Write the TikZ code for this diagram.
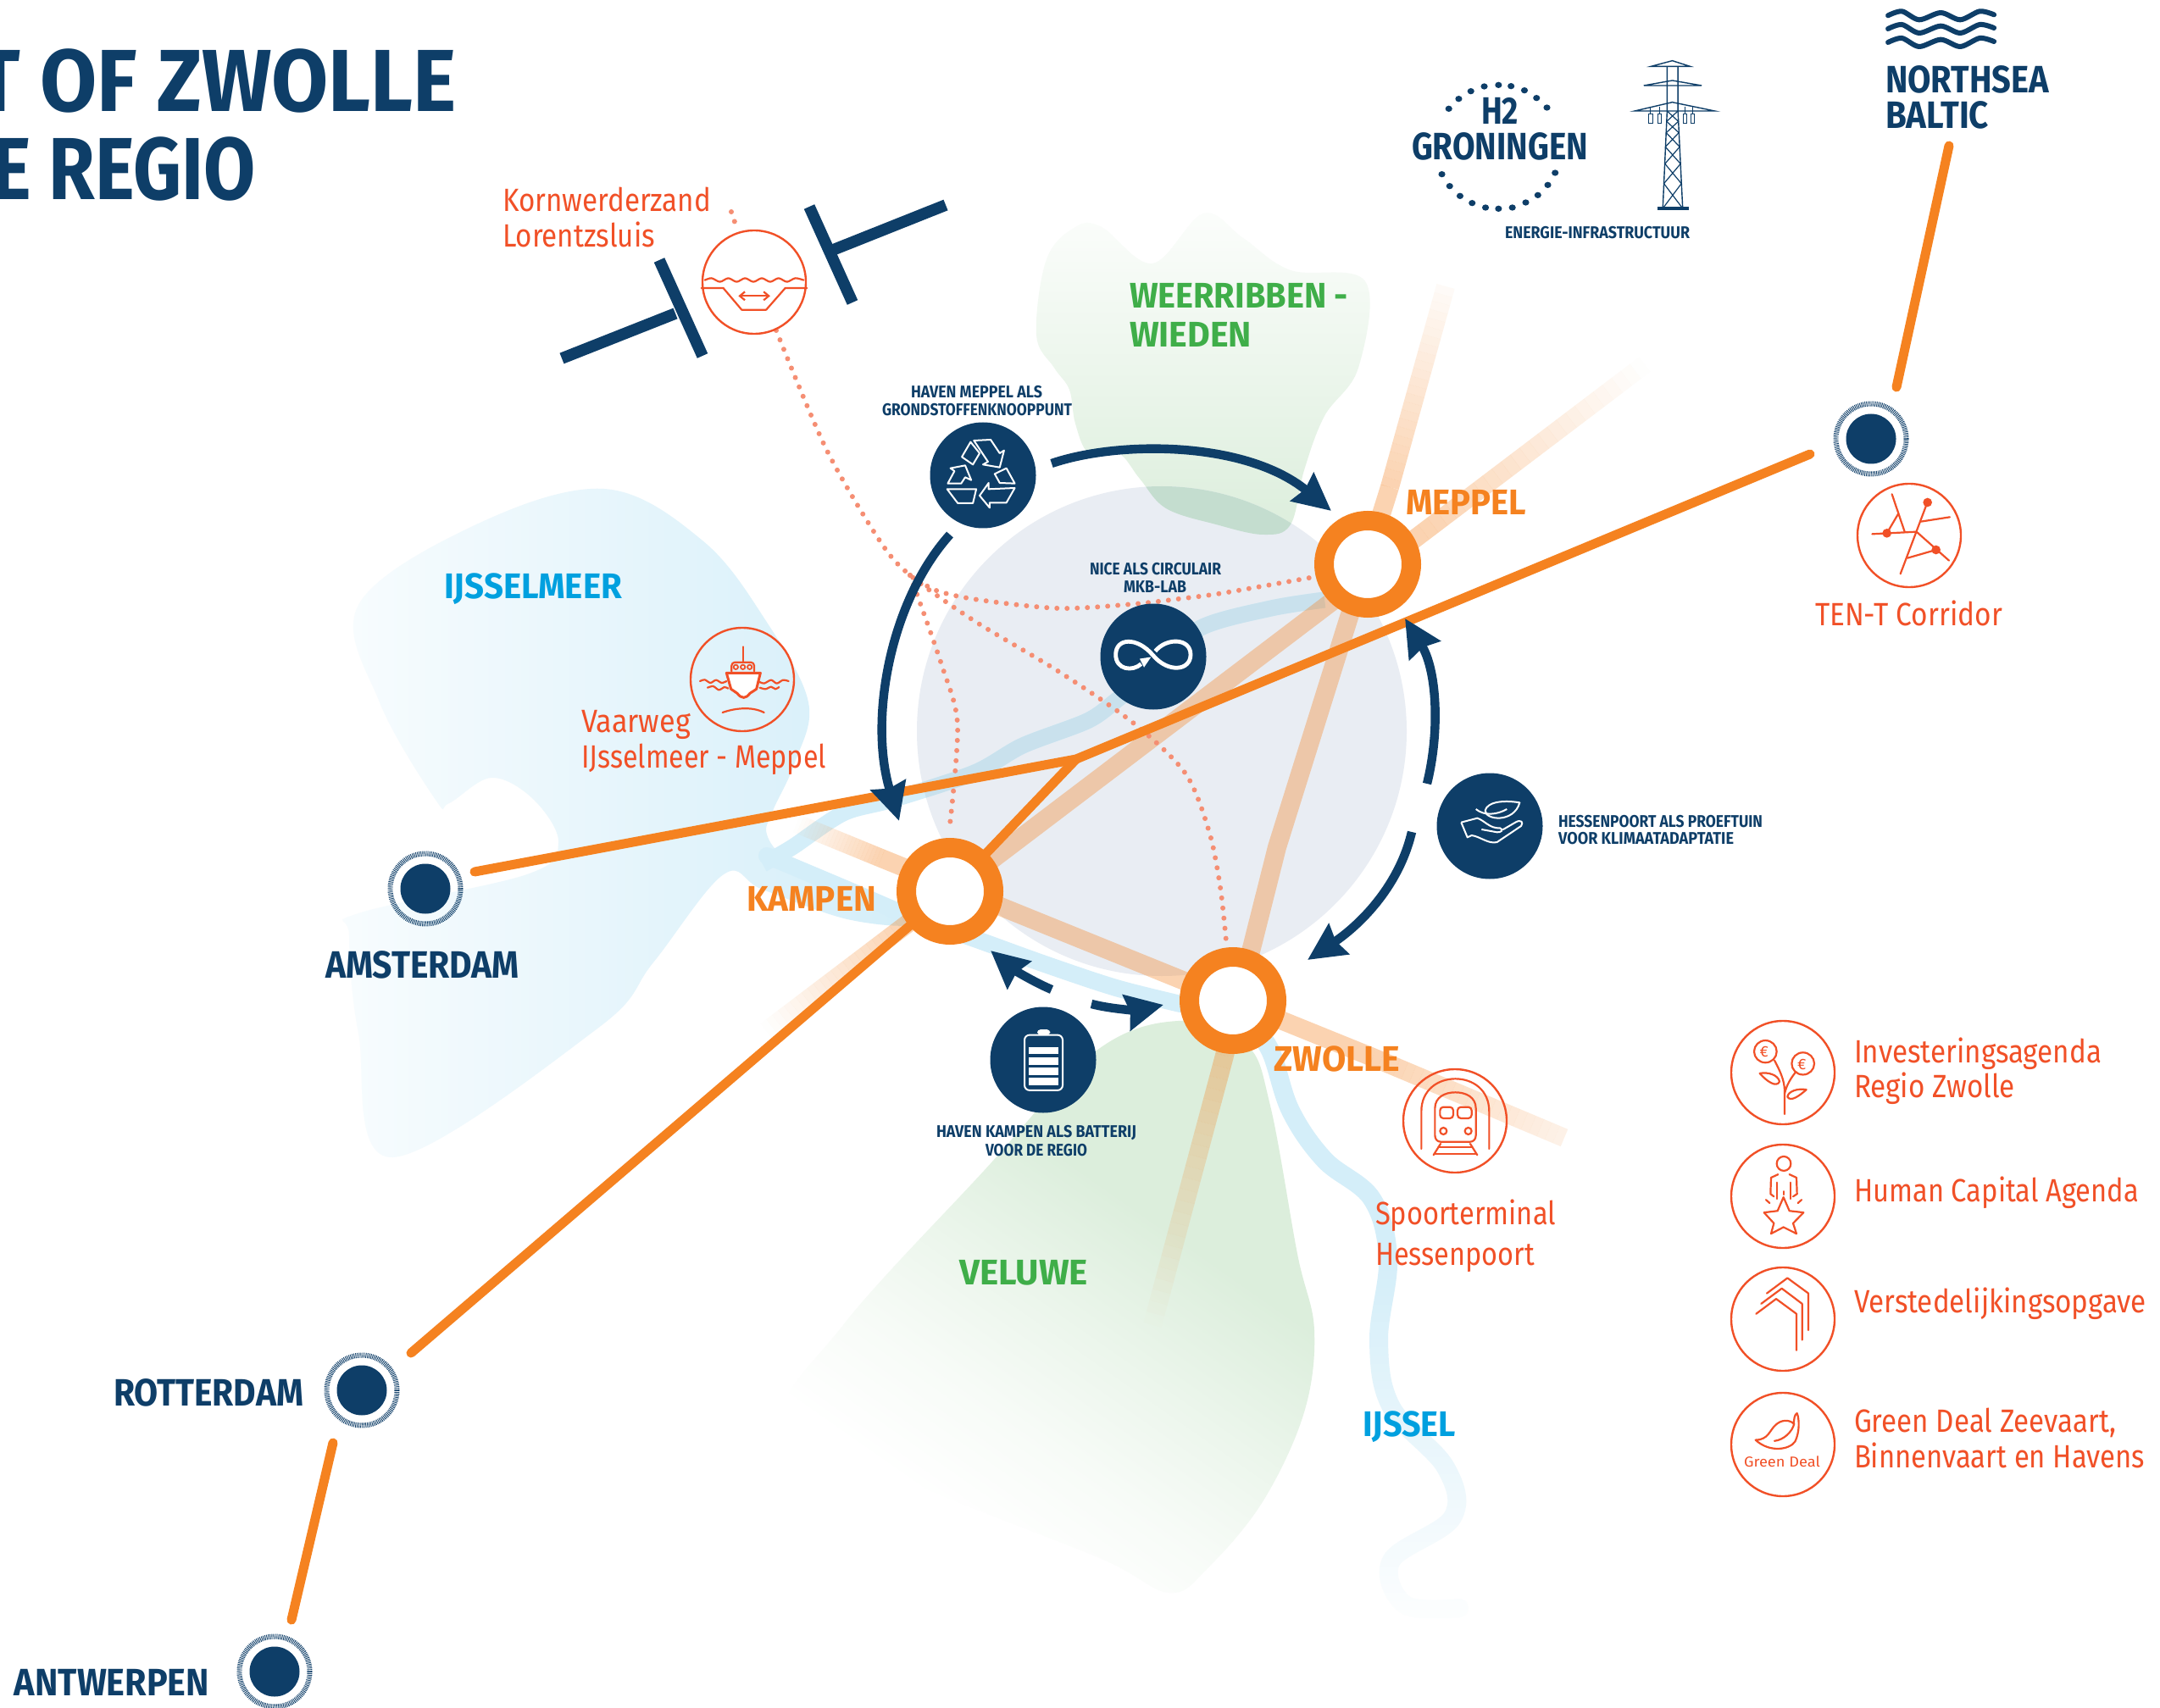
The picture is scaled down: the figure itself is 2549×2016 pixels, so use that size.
\documentclass[tikz,border=0pt]{standalone}
\usepackage{fontspec}
\usepackage{graphicx}
\usetikzlibrary{arrows.meta,calc}
\newfontfamily\boldf{Fira Sans Bold}
\newfontfamily\regf{Fira Sans}
\newcommand\ftitle{\boldf\fontsize{52}{52}\selectfont}
\newcommand\fcity{\boldf\fontsize{22.5}{22.5}\selectfont}
\newcommand\fplace{\boldf\fontsize{21}{21}\selectfont}
\newcommand\fsmall{\boldf\fontsize{10}{10}\selectfont}
\newcommand\fthin{\regf\fontsize{19}{19}\selectfont}
\definecolor{navy}{HTML}{0E3E68}
\definecolor{orng}{HTML}{F58220}
\definecolor{redo}{HTML}{F15027}
\definecolor{skyb}{HTML}{00A0DF}
\definecolor{grn}{HTML}{3FAE49}
\definecolor{lake}{HTML}{D4EEF9}
\definecolor{chan}{HTML}{C9E1ED}
\definecolor{veld}{HTML}{DCEEDC}
\definecolor{hubg}{HTML}{E9EDF3}
\definecolor{lapg}{HTML}{C4DDCF}
\definecolor{dotc}{HTML}{F58E73}
\colorlet{veldm}{veld!55}
\colorlet{veldl}{veld!22}
\colorlet{lakel}{lake!15}
\pgfdeclareverticalshading{velsh}{100bp}{color(0bp)=(white); color(30bp)=(white); color(40bp)=(veldl); color(50bp)=(veldm); color(62bp)=(veld); color(100bp)=(veld)}
\newsavebox\fitbox
\newcommand\fitx[2]{\sbox\fitbox{#2}\pgfmathsetmacro\fitr{#1*0.5/\the\wd\fitbox}\scalebox{\fitr}[1]{\usebox\fitbox}}
\newcommand\lbl[7]{\node[lab] (#1) at (#2,#3) {\fitx{#4}{\color{#6}#5#7}};}
\newcommand\fadeline[4]{\foreach \i in {0,...,23}{\pgfmathsetmacro\fo{#3+(#4-#3)*(\i+.5)/24}\pgfmathsetmacro\fa{\i/24}\pgfmathsetmacro\fb{(\i+1)/24}\draw[line width=11pt,orng,opacity=\fo] ($(#1)!\fa!(#2)$) -- ($(#1)!\fb!(#2)$);}}
\tikzset{
 lab/.style={inner sep=0pt,outer sep=0pt,anchor=base west},
 ringnode/.style={circle,draw=orng,line width=11.5pt,fill=white,inner sep=0pt,outer sep=0pt,minimum size=51.5pt},
 navydot/.style={circle,fill=navy,inner sep=0pt,outer sep=0pt,minimum size=62.5pt},
 citydot/.style={circle,fill=navy,inner sep=0pt,outer sep=0pt,minimum size=29.5pt},
 cityring/.style={navy,line width=3pt,dash pattern=on .45pt off .55pt},
 iconring/.style={circle,draw=redo,line width=1.2pt,inner sep=0pt,outer sep=0pt,minimum size=61pt},
 corridor/.style={orng,line width=5.5pt,line cap=round},
 pale/.style={orng,line width=11pt,opacity=.35},
 dam/.style={navy,line width=6.8pt},
 bow/.style={navy,line width=5.2pt,-{Stealth[length=22pt,width=21pt,inset=2pt]}},
 dots/.style={dotc,line width=3pt,line cap=round,dash pattern=on 0pt off 6pt},
 ric/.style={redo,line width=1.1pt,line join=round,line cap=round},
 wic/.style={white,line width=1pt,line join=round},
}
\def\lakepath{plot[smooth cycle,tension=.6] coordinates {(713,577)(829,638)(904,733)(954,829)(938,900)(912,957)(905,985)(930,1015)(1000,1050)(1075,1090)(1000,1085)(900,1050)(854,1032)(771,1136)(705,1214)(463,1366)(423,1220)(412,1104)(423,1078)(622,1032)(659,995)(630,944)(580,918)(530,948)(514,944)(448,829)(423,714)(560,620)}}
\def\wrpath{plot[smooth cycle,tension=.6] coordinates {(1269,268)(1300,268)(1360,311)(1420,252)(1467,281)(1523,319)(1611,332)(1603,434)(1563,491)(1539,555)(1523,619)(1491,631)(1435,619)(1376,600)(1345,565)(1320,535)(1285,535)(1269,500)(1262,460)(1244,434)(1223,395)(1235,306)}}
\def\velpath{plot[smooth cycle,tension=.6] coordinates {(1390,1205)(1470,1232)(1499,1305)(1531,1480)(1551,1570)(1539,1667)(1491,1771)(1427,1849)(1380,1880)(1300,1840)(1100,1760)(930,1680)(995,1564)(1161,1382)(1290,1243)}}
\def\chanpath{plot[smooth] coordinates {(1563,708)(1500,718)(1417,741)(1361,790)(1317,827)(1283,851)(1207,880)(1150,912)(1053,944)(995,960)(935,1000)(900,1020)}}
\begin{document}
\begin{tikzpicture}[x=.5pt,y=-.5pt]
\useasboundingbox (0,0) rectangle (2549,2016);
\fill[white] (0,0) rectangle (2549,2016);
% areas
\shade[left color=lakel,middle color=lake,right color=lake] \lakepath;
\shade[shading=velsh,shading angle=-35] \velpath;
\shade[top color=veld!10,middle color=veld!45,bottom color=veld] \wrpath;
\fill[hubg] (1371,863) circle[radius=289];
\begin{scope}\clip \wrpath; \fill[lapg] (1371,863) circle[radius=289];\end{scope}
% rivers
\draw[lake,line width=10pt,line cap=round] plot[smooth] coordinates {(905,1010)(1000,1050)(1075,1082)(1150,1108)(1233,1138)(1317,1166)(1393,1185)};
\draw[white,line width=15pt] plot[smooth] coordinates {(1480,1215)(1499,1240)(1523,1311)(1563,1369)(1619,1415)};
\draw[lake,line width=11pt,line cap=round,line join=round] plot[smooth,tension=.6] coordinates {(1470,1200)(1499,1240)(1523,1311)(1563,1369)(1619,1415)(1638,1486)(1627,1583)(1642,1661)(1706,1732)(1714,1791)(1642,1842)(1658,1894)(1722,1898)};
\foreach \i in {0,...,43}{\pgfmathsetmacro\fo{\i/43*.97}\fill[white,opacity=\fo] (1590,1480+\i*10) rectangle (1760,1490+\i*10);}
\fill[white] (1590,1910) rectangle (1760,1940);
\draw[lake,line width=9.5pt] \chanpath;
\begin{scope}\clip (1371,863) circle[radius=289]; \draw[chan,line width=9.5pt] \chanpath;\end{scope}
% wide faded corridors
\coordinate (fa) at (1941,430);\coordinate (sa) at (1680,628);\coordinate (sb) at (1070,1091);\coordinate (fb) at (904,1217);
\coordinate (fc) at (1706,338);\coordinate (sc) at (1640,575);\coordinate (sd) at (1445,1246);\coordinate (fd) at (1360,1564);
\coordinate (fe) at (940,972);\coordinate (se) at (1040,1013);\coordinate (sf) at (1620,1248);\coordinate (ff) at (1846,1343);
\draw[pale] (sa) -- (sb);
\draw[pale,line join=round] (sc) -- (1507,1000) -- (sd);
\draw[pale] (se) -- (sf);
\fadeline{sa}{fa}{.35}{0}
\fadeline{sb}{fb}{.35}{0}
\fadeline{sc}{fc}{.35}{.03}
\fadeline{sd}{fd}{.35}{0}
\fadeline{se}{fe}{.35}{0}
\fadeline{sf}{ff}{.35}{.1}
% dotted links
\draw[dots] (863,250) -- (870,271);
\draw[dots] plot[smooth] coordinates {(916,390)(975,530)(1038,638)(1074,679)(1150,733)(1250,793)(1337,853)(1399,913)(1427,982)(1440,1047)(1447,1111)};
\draw[dots] plot[smooth] coordinates {(1074,679)(1105,697)(1155,708)(1250,718)(1337,713)(1390,707)(1443,700)(1551,681)};
\draw[dots] plot[smooth] coordinates {(1074,679)(1111,784)(1130,855)(1121,973)};
% dams
\coordinate (da1) at (663,423);\coordinate (da2) at (797,370);\coordinate (db1) at (778,307);\coordinate (db2) at (829,420);
\coordinate (dc1) at (955,244);\coordinate (dc2) at (1006,357);\coordinate (dd1) at (983,295);\coordinate (dd2) at (1116,242);
\draw[dam] (da1) -- (da2);\draw[dam] (db1) -- (db2);\draw[dam] (dc1) -- (dc2);\draw[dam] (dd1) -- (dd2);
% city dots
\node[citydot] (amsterdam) at (502,1049) {};
\node[citydot] (rotterdam) at (427,1641) {};
\node[citydot] (antwerpen) at (324,1973) {};
\node[citydot] (tent) at (2208,518) {};
\foreach \c in {amsterdam,rotterdam,antwerpen,tent}{\draw[cityring] (\c) circle[radius=41.5];}
% corridors
\coordinate (junction) at (1270,896);
\coordinate (kampenc) at (1121,1052);
\coordinate (amsend) at (560,1029);\coordinate (tenend) at (2136,536);
\coordinate (rotup) at (485,1597);\coordinate (rotdown) at (393,1703);\coordinate (antup) at (344,1912);
\coordinate (nsb) at (2300,172);\coordinate (nsa) at (2238,457);
\draw[corridor,line join=round] (amsend) -- (junction) -- (tenend);
\draw[corridor] (junction) -- (kampenc);
\draw[corridor] (kampenc) -- (rotup);
\draw[corridor] (rotdown) -- (antup);
\draw[corridor] (nsb) -- (nsa);
\node[ringnode] (kampen) at (kampenc) {};
\node[ringnode] (meppel) at (1614,666) {};
\node[ringnode] (zwolle) at (1455,1181) {};
% hub circles
\node[navydot] (recycle) at (1160,561) {};
\node[navydot] (infinity) at (1361,775) {};
\node[navydot] (hand) at (1758,975) {};
\node[navydot] (battery) at (1231,1251) {};
% arrows
\draw[bow] (1241,547) .. controls (1320,520) and (1470,520) .. (1571,603);
\draw[bow] (1121,631) .. controls (1050,710) and (1025,850) .. (1061,969);
\draw[bow] (1684,925) .. controls (1700,860) and (1695,790) .. (1658,730);
\draw[bow] (1666,982) .. controls (1650,1050) and (1600,1095) .. (1543,1133);
\draw[bow] (1241,1168) .. controls (1215,1157) and (1190,1140) .. (1169,1122);
\draw[bow] (1288,1185) .. controls (1315,1192) and (1345,1192) .. (1373,1186);
% recycle icon
\begin{scope}[shift={(640,220)},xscale=1/2.529,yscale=1/3]
\draw[wic] (1278,905)--(1305,945)--(1285,985)--(1252,958)--cycle;
\draw[wic] (1288,900)--(1338,897)--(1365,945)--(1378,935)--(1365,995)--(1315,985)--(1330,975)--cycle;
\draw[wic] (1210,1052)--(1230,1008)--(1218,998)--(1262,988)--(1280,1040)--(1262,1030)--(1250,1052)--cycle;
\draw[wic] (1350,1018)--(1385,998)--(1410,1052)--(1365,1050)--cycle;
\draw[wic] (1208,1072)--(1295,1072)--(1285,1122)--(1240,1122)--cycle;
\draw[wic] (1305,1095)--(1332,1050)--(1332,1072)--(1410,1068)--(1385,1120)--(1335,1120)--(1335,1138)--cycle;
\end{scope}
% infinity icon
\begin{scope}[shift={(1150,700)},xscale=1/3,yscale=1/2.45]
\draw[white,line width=2.4pt] (590,205) .. controls (560,228) and (500,222) .. (500,178) .. controls (500,130) and (575,125) .. (632,180) .. controls (685,232) and (765,225) .. (765,178) .. controls (765,130) and (680,128) .. (640,168);
\fill[white] (625,185) -- (585,190) -- (600,215) -- cycle;
\end{scope}
% hand icon
\begin{scope}[shift={(1680,900)},scale=1/3]
\draw[wic] (340,142) .. controls (280,132) and (225,140) .. (218,170) .. controls (218,205) and (320,215) .. (340,142) -- cycle;
\draw[wic] (185,165) .. controls (215,190) and (260,185) .. (295,165);
\draw[wic] (133,212) -- (190,197) .. controls (215,205) and (235,235) .. (270,232) .. controls (285,238) and (275,248) .. (260,247) -- (205,237);
\draw[wic] (133,212) -- (155,265) -- (170,258) .. controls (200,262) and (230,290) .. (260,282) -- (345,225) .. controls (355,212) and (345,200) .. (325,212) -- (280,238);
\end{scope}
% battery icon
\begin{scope}[shift={(1150,700)},xscale=1/3,yscale=1/2.45]
\draw[white,line width=1pt,rounded corners=3pt] (177,1278) rectangle (312,1438);
\fill[white,rounded corners=2pt] (222,1262) rectangle (268,1278);
\foreach \y in {1313,1343,1372,1402}{\fill[white] (193,\y) rectangle (298,\y+21);}
\end{scope}
% orange line icons
\node[iconring] (lock) at (890,333) {};
\node[iconring] (boat) at (876,802) {};
\node[iconring] (rail) at (1717,1323) {};
\node[iconring] (corridormap) at (2253,632) {};
\node[iconring] (invest) at (2104,1266) {};
\node[iconring] (human) at (2104,1412) {};
\node[iconring] (urban) at (2104,1557) {};
\node[iconring] (deal) at (2104,1705) {};
% lock
\begin{scope}[shift={(640,220)},xscale=1/2.529,yscale=1/3]
\draw[ric] (475,360)--(540,360)--(595,437)--(668,437)--(725,360)--(790,360);
\draw[ric] plot[smooth] coordinates {(485,332)(505,325)(530,338)(555,325)(580,338)(605,325)(630,338)(655,325)(680,338)(705,325)(730,338)(755,325)(780,332)};
\draw[ric,{Straight Barb[length=3pt,width=5pt]}-{Straight Barb[length=3pt,width=5pt]}] (585,388)--(680,388);
\end{scope}
% boat
\begin{scope}[shift={(800,730)},scale=1/3]
\draw[ric] (230,100)--(230,155);
\draw[ric,rounded corners=2pt] (190,187)--(190,155)--(270,155)--(270,187);
\foreach \x in {205,230,254}{\draw[redo,line width=.9pt] (\x,172) circle[radius=8];}
\draw[ric,fill=white,line width=1.5pt] (172,193)--(292,193)--(278,250)--(255,265) .. controls (240,285) and (225,285) .. (210,265)--(188,250)--cycle;
\draw[ric] plot[smooth] coordinates {(78,222)(95,217)(115,228)(135,218)(155,228)(172,222)};
\draw[ric] plot[smooth] coordinates {(105,245)(125,240)(145,253)(165,243)(178,248)};
\draw[ric] plot[smooth] coordinates {(290,225)(305,230)(330,218)(350,230)(372,218)(392,222)};
\draw[ric] plot[smooth] coordinates {(290,245)(310,250)(330,242)(345,250)(358,243)};
\draw[ric] (158,333) .. controls (200,318) and (260,310) .. (305,333);
\end{scope}
% rail
\begin{scope}[shift={(1640,1250)},scale=1/3]
\draw[ric] (112,318)--(112,185) .. controls (112,110) and (170,70) .. (232,70) .. controls (295,70) and (352,110) .. (352,185)--(352,318);
\draw[ric] (160,175) .. controls (160,135) and (195,118) .. (232,118) .. controls (270,118) and (305,135) .. (305,175)--(305,270) .. controls (305,285) and (295,293) .. (285,293)--(180,293) .. controls (170,293) and (160,285) .. (160,270)--cycle;
\draw[ric,rounded corners=2pt] (178,170) rectangle (225,210);
\draw[ric,rounded corners=2pt] (240,170) rectangle (290,210);
\draw[ric] (190,255) circle[radius=12];
\draw[ric] (278,255) circle[radius=12];
\draw[ric] (180,300)--(155,340);\draw[ric] (285,300)--(310,340);
\draw[ric] (172,312)--(292,312);\draw[ric] (158,336)--(306,336);
\end{scope}
% network
\begin{scope}[shift={(2180,450)},scale=1/3]
\draw[ric] (158,400)--(203,533);\draw[ric] (180,470)--(140,538);\draw[ric] (88,541)--(245,533);
\draw[ric] (283,430)--(188,682);\draw[ric] (260,497)--(363,481);\draw[ric] (245,533)--(360,635);\draw[ric] (213,626)--(314,597);
\fill[redo] (140,538) circle[radius=16];\fill[redo] (284,429) circle[radius=16];\fill[redo] (314,597) circle[radius=16];
\end{scope}
% legend icons
\begin{scope}[shift={(2030,1190)},xscale=1/3,yscale=1/2.6]
\draw[ric] (228,325)--(228,255) .. controls (228,220) and (210,190) .. (192,160);
\draw[ric] (228,262) .. controls (235,235) and (250,215) .. (268,195);
\draw[ric] (160,133) circle[x radius=40,y radius=34];
\draw[ric] (293,170) circle[x radius=40,y radius=34];
\draw[ric] (140,200) .. controls (170,195) and (205,205) .. (210,225) .. controls (200,245) and (165,225) .. (140,200) -- cycle;
\draw[ric] (305,250) .. controls (275,245) and (240,255) .. (238,272) .. controls (250,290) and (285,265) .. (305,250) -- cycle;
\node[text=redo,inner sep=0pt] (euroa) at (155,133) {\regf\fontsize{9}{9}\selectfont €};
\node[text=redo,inner sep=0pt] (eurob) at (289,172) {\regf\fontsize{9}{9}\selectfont €};
\draw[ric] (225,477) circle[x radius=25,y radius=22];
\draw[ric] (205,510)--(180,520)--(178,570)--(190,578);
\draw[ric] (245,510)--(270,520)--(272,570)--(258,578);
\draw[ric] (200,535)--(200,585);\draw[ric] (250,535)--(250,585);\draw[ric] (224,562)--(224,572);
\draw[ric] (162,588)--(175,598);\draw[ric] (288,588)--(275,598);
\draw[ric] (224,580)--(245,622)--(295,627)--(258,660)--(270,692)--(224,672)--(180,692)--(190,660)--(155,627)--(203,622)--cycle;
\draw[ric] (165,875)--(238,828)--(312,875)--(312,988);
\draw[ric] (145,907)--(218,860)--(290,907)--(290,1018);
\draw[ric] (127,938)--(198,892)--(270,938)--(270,1050);
\draw[ric] (125,1325) .. controls (170,1325) and (175,1295) .. (195,1280) .. controls (215,1262) and (245,1262) .. (260,1275) .. controls (262,1260) and (262,1248) .. (272,1243) .. controls (280,1260) and (282,1300) .. (265,1330) .. controls (245,1355) and (175,1365) .. (125,1325) -- cycle;
\draw[ric] (192,1328) .. controls (225,1325) and (255,1300) .. (262,1275);
\end{scope}
% texts
\lbl{tl1}{-28}{132}{567}{\ftitle}{navy}{T OF ZWOLLE}
\lbl{tl2}{-10}{236}{312}{\ftitle}{navy}{E REGIO}
\lbl{kw}{593}{250}{246}{\fthin}{redo}{Kornwerderzand}
\lbl{lz}{593}{292}{180}{\fthin}{redo}{Lorentzsluis}
\lbl{vw}{686}{864}{129}{\fthin}{redo}{Vaarweg}
\lbl{im}{686}{906}{289}{\fthin}{redo}{IJsselmeer - Meppel}
\lbl{tc}{2142}{738}{221}{\fthin}{redo}{TEN-T Corridor}
\lbl{st}{1623}{1445}{213}{\fthin}{redo}{Spoorterminal}
\lbl{hp}{1623}{1493}{188}{\fthin}{redo}{Hessenpoort}
\lbl{ia}{2188}{1254}{292}{\fthin}{redo}{Investeringsagenda}
\lbl{rz}{2188}{1295}{190}{\fthin}{redo}{Regio Zwolle}
\lbl{hc}{2188}{1418}{336}{\fthin}{redo}{Human Capital Agenda}
\lbl{vo}{2188}{1549}{345}{\fthin}{redo}{Verstedelijkingsopgave}
\lbl{gd}{2188}{1690}{309}{\fthin}{redo}{Green Deal Zeevaart,}
\lbl{bh}{2188}{1732}{343}{\fthin}{redo}{Binnenvaart en Havens}
\lbl{gdi}{2058}{1731}{90}{\regf\fontsize{8.5}{8.5}\selectfont}{redo}{Green Deal}
\lbl{ams}{384}{1154}{229}{\fcity}{navy}{AMSTERDAM}
\lbl{rot}{134}{1659}{224}{\fcity}{navy}{ROTTERDAM}
\lbl{ant}{17}{2001}{230}{\fcity}{navy}{ANTWERPEN}
\lbl{nor}{2225}{110}{193}{\fcity}{navy}{NORTHSEA}
\lbl{bal}{2225}{152}{122}{\fcity}{navy}{BALTIC}
\lbl{h2}{1748}{147}{44}{\fcity}{navy}{H2}
\lbl{gro}{1666}{189}{208}{\fcity}{navy}{GRONINGEN}
\lbl{en}{1776}{282}{218}{\fsmall}{navy}{ENERGIE-INFRASTRUCTUUR}
\lbl{hm1}{1075}{470}{155}{\fsmall}{navy}{HAVEN MEPPEL ALS}
\lbl{hm2}{1041}{491}{224}{\fsmall}{navy}{GRONDSTOFFENKNOOPPUNT}
\lbl{ni1}{1286}{678}{155}{\fsmall}{navy}{NICE ALS CIRCULAIR}
\lbl{ni2}{1326}{699}{74}{\fsmall}{navy}{MKB-LAB}
\lbl{hs1}{1839}{976}{241}{\fsmall}{navy}{HESSENPOORT ALS PROEFTUIN}
\lbl{hs2}{1839}{996}{207}{\fsmall}{navy}{VOOR KLIMAATADAPTATIE}
\lbl{hk1}{1105}{1342}{236}{\fsmall}{navy}{HAVEN KAMPEN ALS BATTERIJ}
\lbl{hk2}{1163}{1364}{120}{\fsmall}{navy}{VOOR DE REGIO}
\lbl{ij}{524}{706}{210}{\fplace}{skyb}{IJSSELMEER}
\lbl{is}{1608}{1695}{110}{\fplace}{skyb}{IJSSEL}
\lbl{wr}{1333}{364}{258}{\fplace}{grn}{WEERRIBBEN -}
\lbl{wd}{1333}{410}{144}{\fplace}{grn}{WIEDEN}
\lbl{vl}{1132}{1516}{152}{\fplace}{grn}{VELUWE}
\lbl{mp}{1659}{608}{142}{\fplace}{orng}{MEPPEL}
\lbl{kp}{881}{1075}{153}{\fplace}{orng}{KAMPEN}
\lbl{zw}{1503}{1264}{149}{\fplace}{orng}{ZWOLLE}
% tower and marks
\begin{scope}[shift={(1650,0)},xscale=1/1.96,yscale=1/3]
\foreach \p in {(117,385),(140,350),(168,323),(199,306),(232,301),(261,305),(292,320),(320,347),(344,381),(101,617),(119,659),(143,694),(171,719),(202,735),(232,739),(264,735),(295,717),(323,691),(346,655),(363,612)}{\fill[navy] \p circle[x radius=8,y radius=11];}
\foreach \y in {0,47,95}{\draw[navy,line width=3pt,line cap=round,line join=round] plot[smooth] coordinates {(1133,55+\y)(1165,40+\y)(1205,70+\y)(1255,45+\y)(1300,70+\y)(1345,40+\y)(1378,52+\y)};}
\draw[navy,line width=.7pt] (585,235)--(634,215)--(675,235)--cycle;
\draw[navy,line width=.7pt] (568,303)--(634,285)--(702,303)--cycle;
\draw[navy,line width=.7pt] (547,393)--(634,362)--(732,393)--cycle;
\draw[navy,line width=.7pt] (622,235)--(622,393)--(612,738);
\draw[navy,line width=.7pt] (647,235)--(647,393)--(658,738);
\draw[navy,line width=.6pt] (622,393)--(648,430)--(620,470)--(651,520)--(617,580)--(655,650)--(612,738);
\draw[navy,line width=.6pt] (647,393)--(621,430)--(649,470)--(618,520)--(653,580)--(614.5,650)--(658,738);
\draw[navy,line width=1.6pt] (600,738)--(672,738);
\foreach \x in {584,605,664,681}{\draw[navy,line width=.5pt] (\x,378)--(\x,405);\draw[navy,line width=.5pt] (\x-4,405) rectangle (\x+4,437);}
\end{scope}
\end{tikzpicture}
\end{document}
